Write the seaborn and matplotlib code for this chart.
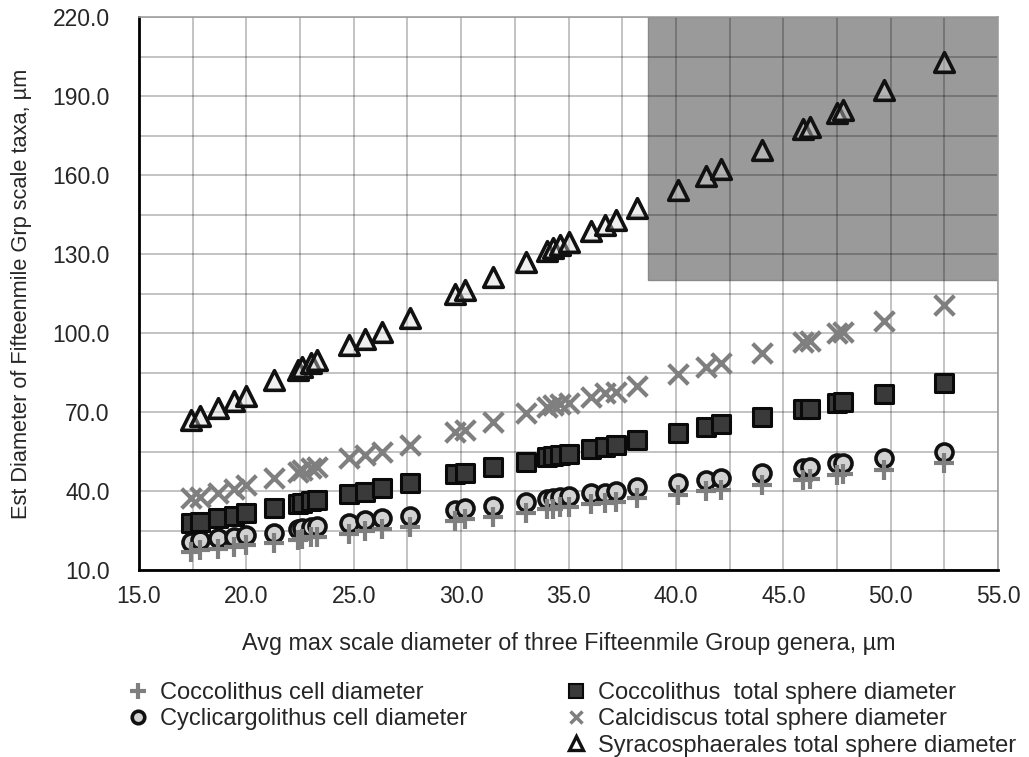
import numpy as np
import pandas as pd
import seaborn as sns
import matplotlib
matplotlib.use("Agg")
import matplotlib.pyplot as plt
from matplotlib.patches import Rectangle
from matplotlib.lines import Line2D
from matplotlib.ticker import MultipleLocator, FormatStrFormatter

# avg max scale diameter of the three genera (um)
scale_diam = [17.4, 17.85, 18.7, 19.4, 20.0, 21.3, 22.4, 22.6, 23.0, 23.3,
              24.8, 25.5, 26.3, 27.6, 29.7, 30.2, 31.5,
              33.0, 34.0, 34.3, 34.6, 35.0, 36.05, 36.7, 37.2, 38.2,
              40.1, 41.4, 42.1, 44.0, 45.9, 46.25, 47.5, 47.8, 49.7, 52.5]

coccolithus_cell = [16.9, 17.5, 18.1, 18.7, 19.4, 20.2, 21.5, 21.8, 22.4, 22.7,
                    23.6, 24.9, 25.5, 26.4, 28.7, 29.3, 30.3,
                    31.8, 33.0, 33.3, 33.8, 34.0, 35.0, 35.3, 36.0, 37.3,
                    38.6, 39.9, 40.5, 42.4, 44.3, 44.7, 46.1, 46.4, 48.0, 50.5]

cyclicargolithus_cell = [20.7, 21.4, 22.0, 22.6, 23.3, 24.2, 25.5, 25.8, 26.4, 26.7,
                         27.7, 29.0, 29.6, 30.5, 32.8, 33.4, 34.4,
                         35.9, 37.0, 37.3, 37.8, 38.1, 39.1, 39.4, 40.1, 41.4,
                         42.9, 44.2, 44.8, 46.7, 48.6, 49.0, 50.5, 50.8, 52.4, 54.9]

coccolithus_sphere = [27.7, 28.3, 29.6, 30.5, 31.8, 33.4, 35.0, 35.3, 36.3, 36.6,
                      38.9, 39.7, 41.0, 43.2, 46.3, 46.9, 49.2,
                      51.1, 52.8, 53.3, 53.7, 54.1, 55.8, 56.6, 57.5, 59.4,
                      62.1, 64.2, 65.3, 68.2, 71.0, 71.3, 73.5, 73.8, 76.7, 80.9]

calcidiscus_sphere = [37.2, 37.8, 39.1, 40.6, 42.3, 45.1, 47.3, 48.0, 48.6, 49.2,
                      52.4, 53.7, 54.9, 57.5, 62.5, 63.2, 66.3,
                      69.5, 72.0, 72.7, 73.0, 73.3, 75.8, 77.1, 77.7, 79.9,
                      84.3, 87.0, 88.7, 92.5, 96.7, 97.1, 99.9, 100.5, 104.7, 110.6]

syracosphaerales_sphere = [67.0, 68.5, 71.5, 74.0, 76.0, 82.0, 86.0, 87.0, 88.6, 89.8,
                           95.5, 97.7, 100.5, 105.7, 114.8, 116.3, 121.3,
                           127.1, 131.2, 132.2, 133.4, 134.7, 138.9, 141.0, 142.9, 147.4,
                           154.3, 159.6, 162.3, 169.5, 177.4, 178.4, 183.5, 184.7, 192.3, 203.1]

labels = ["Coccolithus cell diameter",
          "Cyclicargolithus cell diameter",
          "Coccolithus  total sphere diameter",
          "Calcidiscus total sphere diameter",
          "Syracosphaerales total sphere diameter"]

# shaded region (x from, y from)
shade_x0, shade_y0 = 38.7, 120.0

sns.set_style("white")
plt.rcParams["font.family"] = ["Liberation Sans", "DejaVu Sans"]

fig = plt.figure(figsize=(10.29, 7.57), dpi=100)
ax = fig.add_axes([0.1351, 0.247, 0.8348, 0.7305])

ax.set_xlim(15, 55)
ax.set_ylim(10, 220)

ax.add_patch(Rectangle((shade_x0, shade_y0), 55 - shade_x0, 220 - shade_y0,
                       facecolor="#9a9a9a", edgecolor="#8a8a8a", lw=1, zorder=0.2))

grey = "#7f7f7f"
sns.scatterplot(x=scale_diam, y=cyclicargolithus_cell, marker="o", s=150,
                facecolor="#d2d2d2", edgecolor="#111111", linewidth=2.6, ax=ax, zorder=3)
sns.scatterplot(x=scale_diam, y=coccolithus_cell, marker="+", s=220,
                color=grey, linewidth=3, ax=ax, zorder=4)
sns.scatterplot(x=scale_diam, y=coccolithus_sphere, marker="s", s=170,
                facecolor="#3a3a3a", edgecolor="#0a0a0a", linewidth=2.2, ax=ax, zorder=3)
sns.scatterplot(x=scale_diam, y=calcidiscus_sphere, marker="x", s=200,
                color=grey, linewidth=3, ax=ax, zorder=3)
sns.scatterplot(x=scale_diam, y=syracosphaerales_sphere, marker="^", s=200,
                facecolor=(0.85, 0.85, 0.85, 0.4), edgecolor="#111111", linewidth=2.6,
                ax=ax, zorder=5)

ax.xaxis.set_major_locator(MultipleLocator(5))
ax.xaxis.set_minor_locator(MultipleLocator(2.5))
ax.set_yticks(np.arange(10, 221, 30))
ax.set_yticks(np.arange(10, 221, 15), minor=True)
ax.xaxis.set_major_formatter(FormatStrFormatter("%.1f"))
ax.yaxis.set_major_formatter(FormatStrFormatter("%.1f"))

ax.set_axisbelow(True)
ax.grid(True, which="both", color="black", alpha=0.3, lw=1.1)
ax.tick_params(which="both", length=0)
ax.tick_params(axis="y", labelsize=16.5, pad=21)
ax.tick_params(axis="x", labelsize=16.5, pad=11)

for side in ["top", "right"]:
    ax.spines[side].set_color("#a0a0a0")
    ax.spines[side].set_linewidth(1.2)
for side in ["left", "bottom"]:
    ax.spines[side].set_color("black")
    ax.spines[side].set_linewidth(2)

ax.set_xlabel("Avg max scale diameter of three Fifteenmile Group genera, µm", fontsize=16.8)
ax.set_ylabel("Est Diameter of Fifteenmile Grp scale taxa, µm", fontsize=15.7)
ax.xaxis.set_label_coords(0.5, -0.112)
ax.yaxis.set_label_coords(-0.125, 0.5)

h_plus = Line2D([], [], ls="", marker="+", ms=11, mew=3, color=grey)
h_circ = Line2D([], [], ls="", marker="o", ms=9, mew=2.6, mfc="#d2d2d2", mec="#111111")
h_sq = Line2D([], [], ls="", marker="s", ms=10, mew=1.5, mfc="#3a3a3a", mec="#0a0a0a")
h_x = Line2D([], [], ls="", marker="x", ms=9, mew=2.5, color=grey)
h_tri = Line2D([], [], ls="", marker="^", ms=10, mew=2.4, mfc="white", mec="#111111")

leg_kw = dict(frameon=False, fontsize=17, handlelength=1.0, handletextpad=0.45,
              labelspacing=0.18, borderpad=0, borderaxespad=0, loc="upper left")
fig.legend([h_plus, h_circ], labels[:2], bbox_to_anchor=(0.1225, 0.099), **leg_kw)
fig.legend([h_sq, h_x, h_tri], labels[2:], bbox_to_anchor=(0.548, 0.099), **leg_kw)

plt.savefig("out.png", dpi=100)
